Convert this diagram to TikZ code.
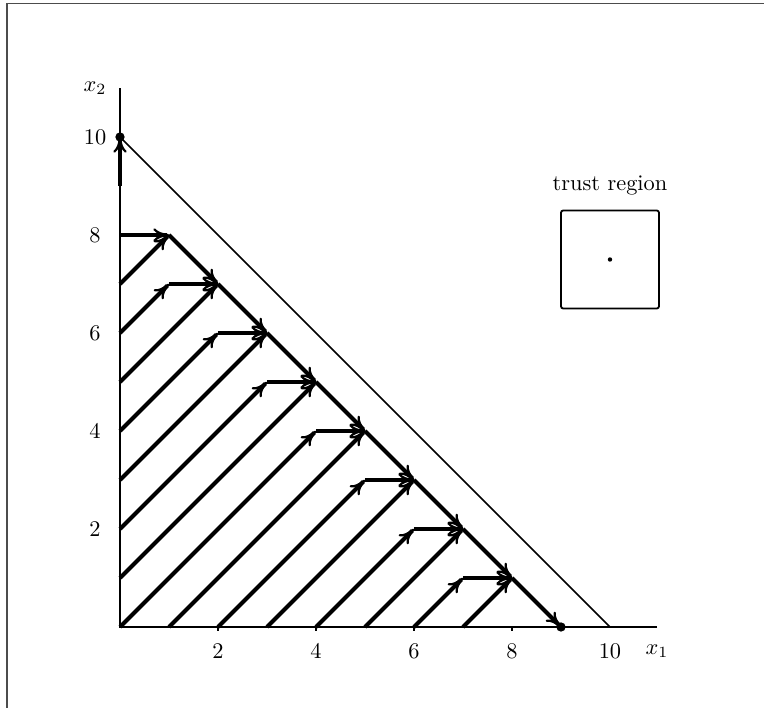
\documentclass[tikz,border=0pt]{standalone}
\usetikzlibrary{arrows.meta}
\begin{document}
\begin{tikzpicture}[x=0.77cm,y=0.77cm,
  thk/.style={line width=1.8pt,-{Computer Modern Rightarrow[length=7pt,width=6pt,line width=1pt]}},
  axisline/.style={line width=0.9pt},
  thin/.style={line width=0.7pt},
  framel/.style={line width=0.7pt,black!70},
  lab/.style={inner sep=1pt}]
\useasboundingbox (-2.449,-1.653) rectangle (13.143,12.796);
% frame (page border, partly visible)
\coordinate (F1) at (-2.306,-1.653);
\coordinate (F2) at (-2.306,12.724);
\coordinate (F3) at (13.143,12.724);
\draw[framel] (F1) -- (F2) -- (F3);
% key points
\coordinate (O) at (0,0);
\coordinate (X) at (10.96,0);
\coordinate (Y) at (0,11);
\coordinate (A) at (0,10);
\coordinate (B) at (10,0);
\coordinate (S) at (0,9);
\foreach \i in {1,...,9} \coordinate (P\i) at (\i,{9-\i});
\foreach \i in {1,...,8} \coordinate (H\i) at ({\i-1},{9-\i});
\foreach \k in {0,...,7} \coordinate (L\k) at (0,\k);
\foreach \k in {1,...,7} \coordinate (D\k) at (\k,0);
% axes and constraint line
\draw[axisline] (X) -- (O) -- (Y);
\foreach \k in {2,4,6,8} {
  \coordinate (T\k) at (\k,0);
  \coordinate (U\k) at (\k,-0.09);
  \draw[axisline] (T\k) -- (U\k);
}
\draw[thin] (A) -- (B);
% diagonal arrows to staircase corners
\foreach \s/\t in {L7/P1,L5/P2,L3/P3,L1/P4,D1/P5,D3/P6,D5/P7,D7/P8}
  \draw[thk] (\s) -- (\t);
% diagonal arrows to starts of horizontal arrows
\foreach \s/\t in {L6/H2,L4/H3,L2/H4,L0/H5,D2/H6,D4/H7,D6/H8}
  \draw[thk] (\s) -- (\t);
% horizontal arrows
\foreach \i in {1,...,8} \draw[thk] (H\i) -- (P\i);
% staircase
\foreach \i [evaluate=\i as \j using int(\i+1)] in {1,...,8}
  \draw[thk] (P\i) -- (P\j);
\draw[thk] (S) -- (A);
% dots
\fill (A) circle (0.095);
\fill (P9) circle (0.095);
% labels
\foreach \k in {2,4,6,8,10} \node[lab] (xl\k) at (\k,-0.49) {$\k$};
\foreach \k in {2,4,6,8,10} \node[lab] (yl\k) at (-0.51,\k) {$\k$};
\node[lab] (x1) at (10.96,-0.49) {$x_1$};
\node[lab] (x2) at (-0.51,11.0) {$x_2$};
% trust region
\node[lab] (tr) at (10,9.02) {trust region};
\draw[line width=0.8pt,rounded corners=1pt] (9,6.5) rectangle (11,8.5);
\coordinate (C) at (10,7.5);
\fill (C) circle (0.045);
\end{tikzpicture}
\end{document}
